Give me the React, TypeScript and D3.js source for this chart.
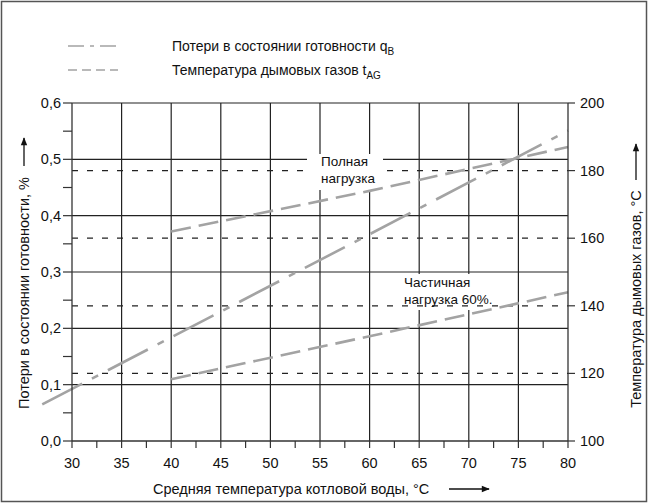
import React from 'react';
import * as d3 from 'd3';

const xTicks = [30, 35, 40, 45, 50, 55, 60, 65, 70, 75, 80];
const xMinorTicks = [32.5, 37.5, 42.5, 47.5, 52.5, 57.5, 62.5, 67.5, 72.5, 77.5];
const leftTicks = [0, 0.1, 0.2, 0.3, 0.4, 0.5, 0.6];
const leftTickLabels = ['0,0', '0,1', '0,2', '0,3', '0,4', '0,5', '0,6'];
const leftMinorTicks = [0.05, 0.15, 0.25, 0.35, 0.45, 0.55];
const rightTicks = [100, 120, 140, 160, 180, 200];
const refTemps = [120, 140, 160, 180];

const standbyX = [27, 40, 60, 80];
const standbyQ = [0.065, 0.184, 0.367, 0.551];
const fullLoadX = [40, 60, 80];
const fullLoadT = [162, 174, 187];
const partialX = [40, 60, 80];
const partialT = [118.3, 131, 144];

const FONT = '"Liberation Sans", Arial, sans-serif';
const GRID = '#222';
const SERIES = '#a3a3a3';

export default function App() {
  const x = d3.scaleLinear().domain([30, 80]).range([72, 568]);
  const yL = d3.scaleLinear().domain([0, 0.6]).range([441, 103]);
  const yR = d3.scaleLinear().domain([100, 200]).range([441, 103]);
  const [x0, x1] = x.range();
  const [yb, yt] = yL.range();

  const standby = standbyX.map((v, i) => [x(v), yL(standbyQ[i])] as [number, number]);
  const full = fullLoadX.map((v, i) => [x(v), yR(fullLoadT[i])] as [number, number]);
  const partial = partialX.map((v, i) => [x(v), yR(partialT[i])] as [number, number]);
  const line = d3.line();

  return (
    <svg width={648} height={503} style={{ position: 'absolute', left: 0, top: 0, display: 'block', background: '#fff' }} fontFamily={FONT}>
      <defs>
        <marker id="ah" viewBox="0 0 10 10" refX="9" refY="5" markerWidth="10" markerHeight="8" markerUnits="userSpaceOnUse" orient="auto">
          <path d="M0,1 L10,5 L0,9 Z" fill="#111" />
        </marker>
      </defs>
      <rect x={1.5} y={1.5} width={645} height={500} fill="#fff" stroke="#555" strokeWidth={1.5} />

      {/* legend */}
      <line x1={68} x2={118} y1={46} y2={46} stroke={SERIES} strokeWidth={1.5} strokeDasharray="16,6,4,6" />
      <text x={172} y={51} fontSize={14} fill="#111">
        Потери в состоянии готовности q<tspan fontSize={10} dy={4}>B</tspan>
      </text>
      <line x1={68} x2={118} y1={70} y2={70} stroke={SERIES} strokeWidth={1.5} strokeDasharray="9,5" />
      <text x={172} y={75} fontSize={14} fill="#111">
        Температура дымовых газов t<tspan fontSize={10} dy={4}>AG</tspan>
      </text>

      {/* vertical grid */}
      {xTicks.slice(1, -1).map((t) => (
        <line key={'vg' + t} x1={x(t)} x2={x(t)} y1={yt} y2={yb} stroke={GRID} strokeWidth={1.2} />
      ))}
      {/* horizontal grid */}
      {leftTicks.slice(1).map((t) => (
        <line key={'hg' + t} x1={x0} x2={x1} y1={yL(t)} y2={yL(t)} stroke={GRID} strokeWidth={1.2} />
      ))}

      {/* partial load label box */}
      <rect x={401} y={274} width={92} height={36} fill="#fff" />

      {/* reference dashed lines */}
      {refTemps.map((t) => (
        <line key={'rt' + t} x1={x0} x2={x1} y1={yR(t)} y2={yR(t)} stroke="#222" strokeWidth={1.3} strokeDasharray="6,9" />
      ))}

      {/* full load label box */}
      <rect x={307} y={154} width={76} height={36} fill="#fff" />

      {/* series */}
      <path d={line(standby) || ''} fill="none" stroke={SERIES} strokeWidth={2.6} strokeDasharray="45,11,7,11" />
      <path d={line(full) || ''} fill="none" stroke={SERIES} strokeWidth={2.6} strokeDasharray="20,8" />
      <path d={line(partial) || ''} fill="none" stroke={SERIES} strokeWidth={2.6} strokeDasharray="20,8" />

      {/* axes */}
      <line x1={x0} x2={x0} y1={yt} y2={yb} stroke="#333" strokeWidth={1.3} />
      <line x1={x1} x2={x1} y1={yt} y2={yb} stroke="#333" strokeWidth={1.3} />
      <line x1={x0} x2={x1} y1={yb} y2={yb} stroke="#333" strokeWidth={1.3} />
      {leftTicks.map((t, i) => (
        <g key={'lt' + t}>
          <line x1={x0 - 9} x2={x0} y1={yL(t)} y2={yL(t)} stroke="#333" strokeWidth={1.2} />
          <text x={x0 - 11} y={yL(t)} dy="0.35em" textAnchor="end" fontSize={14.5} fill="#111">{leftTickLabels[i]}</text>
        </g>
      ))}
      {leftMinorTicks.map((t) => (
        <line key={'lm' + t} x1={x0 - 9} x2={x0} y1={yL(t)} y2={yL(t)} stroke="#333" strokeWidth={1.2} />
      ))}
      {rightTicks.map((t) => (
        <g key={'rtk' + t}>
          <line x1={x1} x2={x1 + 7} y1={yR(t)} y2={yR(t)} stroke="#333" strokeWidth={1.2} />
          <text x={x1 + 12} y={yR(t)} dy="0.35em" textAnchor="start" fontSize={14.5} fill="#111">{t}</text>
        </g>
      ))}
      {xTicks.map((t) => (
        <g key={'xt' + t}>
          <line x1={x(t)} x2={x(t)} y1={yb} y2={yb + 7} stroke="#333" strokeWidth={1.2} />
          <text x={x(t)} y={yb + 27} textAnchor="middle" fontSize={14.5} fill="#111">{t}</text>
        </g>
      ))}
      {xMinorTicks.map((t) => (
        <line key={'xm' + t} x1={x(t)} x2={x(t)} y1={yb} y2={yb + 7} stroke="#333" strokeWidth={1.2} />
      ))}

      {/* annotations */}
      <text x={321} y={166} fontSize={13.5} fill="#111">Полная</text>
      <text x={321} y={183} fontSize={13.5} fill="#111">нагрузка</text>
      <text x={404} y={287} fontSize={13.5} fill="#111">Частичная</text>
      <text x={404} y={304} fontSize={13.5} fill="#111">нагрузка 60%.</text>

      {/* axis titles */}
      <text x={153} y={494} fontSize={14.5} fill="#111">Средняя температура котловой воды, °C</text>
      <line x1={449} x2={489} y1={489} y2={489} stroke="#111" strokeWidth={1.3} markerEnd="url(#ah)" />
      <text transform="translate(29,293) rotate(-90)" textAnchor="middle" fontSize={14.5} fill="#111">Потери в состоянии готовности, %</text>
      <line x1={24} x2={24} y1={166} y2={138} stroke="#111" strokeWidth={1.3} markerEnd="url(#ah)" />
      <text transform="translate(641,299) rotate(-90)" textAnchor="middle" fontSize={14.5} fill="#111">Температура дымовых газов, °C</text>
      <line x1={636} x2={636} y1={180} y2={144} stroke="#111" strokeWidth={1.3} markerEnd="url(#ah)" />
    </svg>
  );
}
